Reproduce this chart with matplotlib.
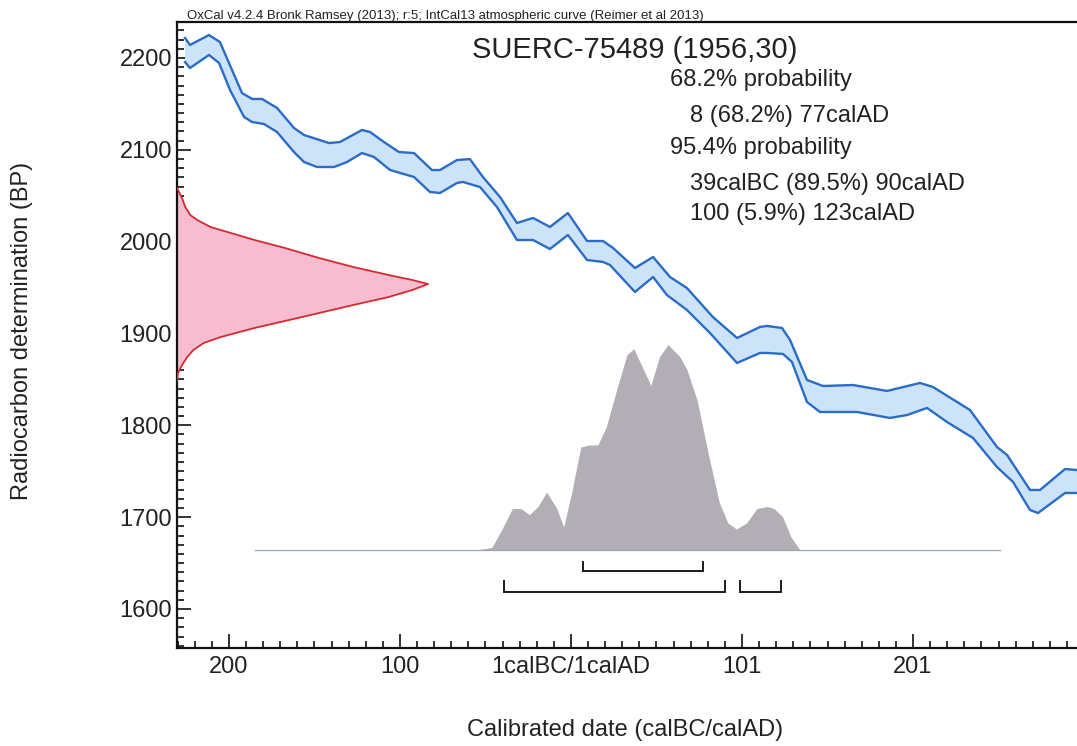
import matplotlib
matplotlib.use('Agg')
import matplotlib.pyplot as plt
from matplotlib.ticker import MultipleLocator, FixedLocator, FixedFormatter

plt.rcParams['font.family'] = ['Liberation Sans', 'DejaVu Sans']

# ---------------- data (x = years from the 1calBC/1calAD boundary) ----------------
x_ticks = [-200, -100, 0, 100, 200]
x_tick_labels = ["200", "100", "1calBC/1calAD", "101", "201"]
y_ticks = [1600, 1700, 1800, 1900, 2000, 2100, 2200]

# IntCal13 band: upper and lower edges
curve_upper_x = [-225.7, -222.8, -211.7, -205.3, -192.4, -186.5, -180.7, -171.9, -162.0, -156.1,
                 -141.5, -135.1, -122.2, -117.5, -109.4, -100.6, -91.8, -81.3, -76.6, -66.7,
                 -59.1, -51.5, -41.5, -31.6, -22.2, -12.3, -1.8, 9.4, 18.7, 24.6,
                 37.4, 48.0, 57.9, 67.8, 83.0, 97.1, 110.5, 114.6, 123.4, 128.1,
                 138.0, 147.4, 164.9, 184.8, 204.1, 211.7, 233.3, 249.1, 255.0, 268.4,
                 274.3, 288.9, 295.9]
curve_upper_bp = [2221.8, 2214.2, 2225.0, 2217.4, 2161.9, 2155.4, 2155.4, 2145.6, 2123.8, 2116.1,
                  2107.4, 2108.5, 2121.6, 2119.4, 2108.5, 2097.6, 2096.5, 2078.0, 2078.0, 2088.9,
                  2089.9, 2070.4, 2048.6, 2020.3, 2025.8, 2016.0, 2031.2, 2000.7, 2000.7, 1993.1,
                  1971.3, 1983.3, 1961.5, 1949.5, 1917.9, 1895.1, 1907.1, 1908.2, 1906.0, 1892.9,
                  1849.4, 1842.8, 1843.9, 1837.4, 1846.1, 1841.7, 1816.7, 1776.4, 1767.7, 1729.6,
                  1729.6, 1752.4, 1751.3]
curve_lower_x = [-225.7, -222.8, -211.7, -205.8, -199.4, -191.2, -186.5, -179.5, -171.9, -162.0,
                 -156.1, -148.5, -138.6, -131.0, -122.2, -115.2, -105.8, -91.8, -82.5, -76.6,
                 -66.7, -63.2, -53.2, -43.3, -31.6, -22.2, -12.3, -1.8, 9.4, 18.7,
                 22.8, 37.4, 48.0, 56.1, 67.8, 81.3, 97.1, 110.5, 114.6, 124.0,
                 129.2, 138.0, 145.6, 167.3, 186.5, 196.5, 208.2, 219.9, 235.1, 249.1,
                 258.5, 268.4, 273.1, 288.9, 295.9]
curve_lower_bp = [2195.6, 2189.1, 2203.3, 2194.6, 2165.2, 2135.8, 2130.3, 2128.1, 2119.4, 2097.6,
                  2086.7, 2081.3, 2081.3, 2086.7, 2096.5, 2092.2, 2078.0, 2070.4, 2054.1, 2053.0,
                  2063.9, 2065.0, 2059.5, 2037.7, 2001.8, 2001.8, 1992.0, 2007.3, 1980.0, 1977.9,
                  1974.6, 1945.2, 1961.5, 1941.9, 1925.6, 1900.5, 1867.9, 1878.8, 1878.8, 1877.7,
                  1869.0, 1825.4, 1814.5, 1814.5, 1808.0, 1811.2, 1818.9, 1803.6, 1786.2, 1754.6,
                  1738.3, 1707.8, 1704.5, 1726.3, 1726.3]

meas_bp = [2058.4, 2047.5, 2037.7, 2029.0, 2023.5, 2015.9, 2009.4, 2001.8, 1993.1, 1982.2,
           1972.4, 1963.7, 1958.2, 1953.9, 1947.4, 1939.7, 1931.0, 1922.3, 1914.7, 1906.0,
           1896.2, 1889.6, 1882.0, 1874.4, 1865.7, 1857.0, 1849.4]
meas_rel = [0.0, 0.02, 0.033, 0.053, 0.081, 0.134, 0.215, 0.309, 0.43, 0.566,
            0.702, 0.843, 0.938, 1.0, 0.938, 0.843, 0.702, 0.566, 0.447, 0.309,
            0.175, 0.106, 0.065, 0.041, 0.02, 0.004, 0.0]
meas_width_years = 146.8

# calibrated (posterior) distribution
post_x = [-53, -46, -40, -34, -29, -24, -19, -14, -8, -4, 1, 6, 11, 16, 21, 27, 33, 37, 42,
          47, 52, 57, 64, 68, 74, 81, 87, 92, 97, 103, 109, 115, 119, 124, 129, 134]
post_rel = [0.0, 0.01, 0.10, 0.20, 0.20, 0.17, 0.21, 0.28, 0.20, 0.11, 0.29, 0.50, 0.51, 0.51,
            0.60, 0.78, 0.95, 0.98, 0.89, 0.80, 0.94, 1.00, 0.94, 0.88, 0.73, 0.45, 0.23, 0.13,
            0.10, 0.13, 0.20, 0.21, 0.20, 0.16, 0.06, 0.0]
post_baseline_bp = 1664.2
post_height_bp = 223.2
post_baseline_range = [-185, 251]

# highest probability ranges (start, end) on the x scale
ranges_68 = [(7, 77)]
ranges_95 = [(-39, 90), (99, 123)]
bracket_68_bp = (1641, 1651)
bracket_95_bp = (1619, 1630)

header = "OxCal v4.2.4 Bronk Ramsey (2013); r:5; IntCal13 atmospheric curve (Reimer et al 2013)"
title = "SUERC-75489 (1956,30)"
info_lines = [("68.2% probability", 0), ("8 (68.2%) 77calAD", 1),
              ("95.4% probability", 0), ("39calBC (89.5%) 90calAD", 1),
              ("100 (5.9%) 123calAD", 1)]

# ---------------- figure ----------------
W, H = 1077, 746
fig = plt.figure(figsize=(W / 100, H / 100), dpi=100)
ax = fig.add_axes([177 / W, 1 - 648 / H, 900 / W, (648 - 22) / H])
xmin, xmax = -230.4, 295.9
ymin, ymax = 1557.5, 2239.2
ax.set_xlim(xmin, xmax)
ax.set_ylim(ymin, ymax)

# calibration curve band
band_x = curve_upper_x + curve_lower_x[::-1]
band_y = curve_upper_bp + curve_lower_bp[::-1]
ax.fill(band_x, band_y, facecolor='#cce3f8', edgecolor='none', zorder=2)
ax.plot(curve_upper_x, curve_upper_bp, color='#2a6cc6', lw=1.7, zorder=3, solid_joinstyle='round')
ax.plot(curve_lower_x, curve_lower_bp, color='#2a6cc6', lw=1.7, zorder=3, solid_joinstyle='round')

# measurement distribution on y-axis
meas_x = [xmin + r * meas_width_years for r in meas_rel]
ax.fill_betweenx(meas_bp, xmin, meas_x, facecolor='#f8bcd0', edgecolor='none', zorder=2)
ax.plot(meas_x, meas_bp, color='#d42a30', lw=1.3, zorder=3, solid_joinstyle='round')

# posterior distribution
ax.plot(post_baseline_range, [post_baseline_bp] * 2, color='#9ba5b0', lw=0.9, zorder=2)
post_top = [post_baseline_bp + r * post_height_bp for r in post_rel]
ax.fill_between(post_x, post_baseline_bp, post_top, facecolor='#b3adb5', edgecolor='none', zorder=3)

# range brackets
for ranges, (line_bp, tip_bp) in ((ranges_68, bracket_68_bp), (ranges_95, bracket_95_bp)):
    for s, e in ranges:
        ax.plot([s, s, e, e], [tip_bp, line_bp, line_bp, tip_bp], color='#1a1a1a', lw=1.4,
                solid_joinstyle='miter', zorder=4)

# axes styling
for side in ('left', 'bottom', 'top'):
    ax.spines[side].set_linewidth(1.6)
    ax.spines[side].set_color('#111111')
ax.spines['right'].set_visible(False)
ax.xaxis.set_major_locator(FixedLocator(x_ticks))
ax.xaxis.set_major_formatter(FixedFormatter(x_tick_labels))
ax.xaxis.set_minor_locator(MultipleLocator(10))
ax.yaxis.set_major_locator(FixedLocator(y_ticks))
ax.yaxis.set_minor_locator(MultipleLocator(10))
ax.tick_params(which='both', direction='in', top=False, right=False, color='#111111', width=1.2)
ax.tick_params(which='major', length=10)
ax.tick_params(which='minor', length=5)
ax.tick_params(axis='x', which='major', labelsize=17, pad=6, labelcolor='#222222')
ax.tick_params(axis='y', which='major', labelsize=17, pad=3.5, labelcolor='#222222')

# texts
fig.text(187 / W, 1 - 19 / H, header, fontsize=9.5, color='#222222', ha='left', va='baseline')
fig.text(472 / W, 1 - 50 / H, title, fontsize=21, color='#222222', ha='left', va='center')
info_y = [80, 116, 148, 184, 214]
for (txt, indent), yy in zip(info_lines, info_y):
    fig.text((670 + 20 * indent) / W, 1 - yy / H, txt, fontsize=17, color='#222222',
             ha='left', va='center')
fig.text(625 / W, 1 - 730 / H, "Calibrated date (calBC/calAD)", fontsize=17, color='#222222',
         ha='center', va='center')
fig.text(22 / W, 1 - 331 / H, "Radiocarbon determination (BP)", fontsize=17, color='#222222',
         ha='center', va='center', rotation=90)

fig.savefig('out.png', dpi=100)
